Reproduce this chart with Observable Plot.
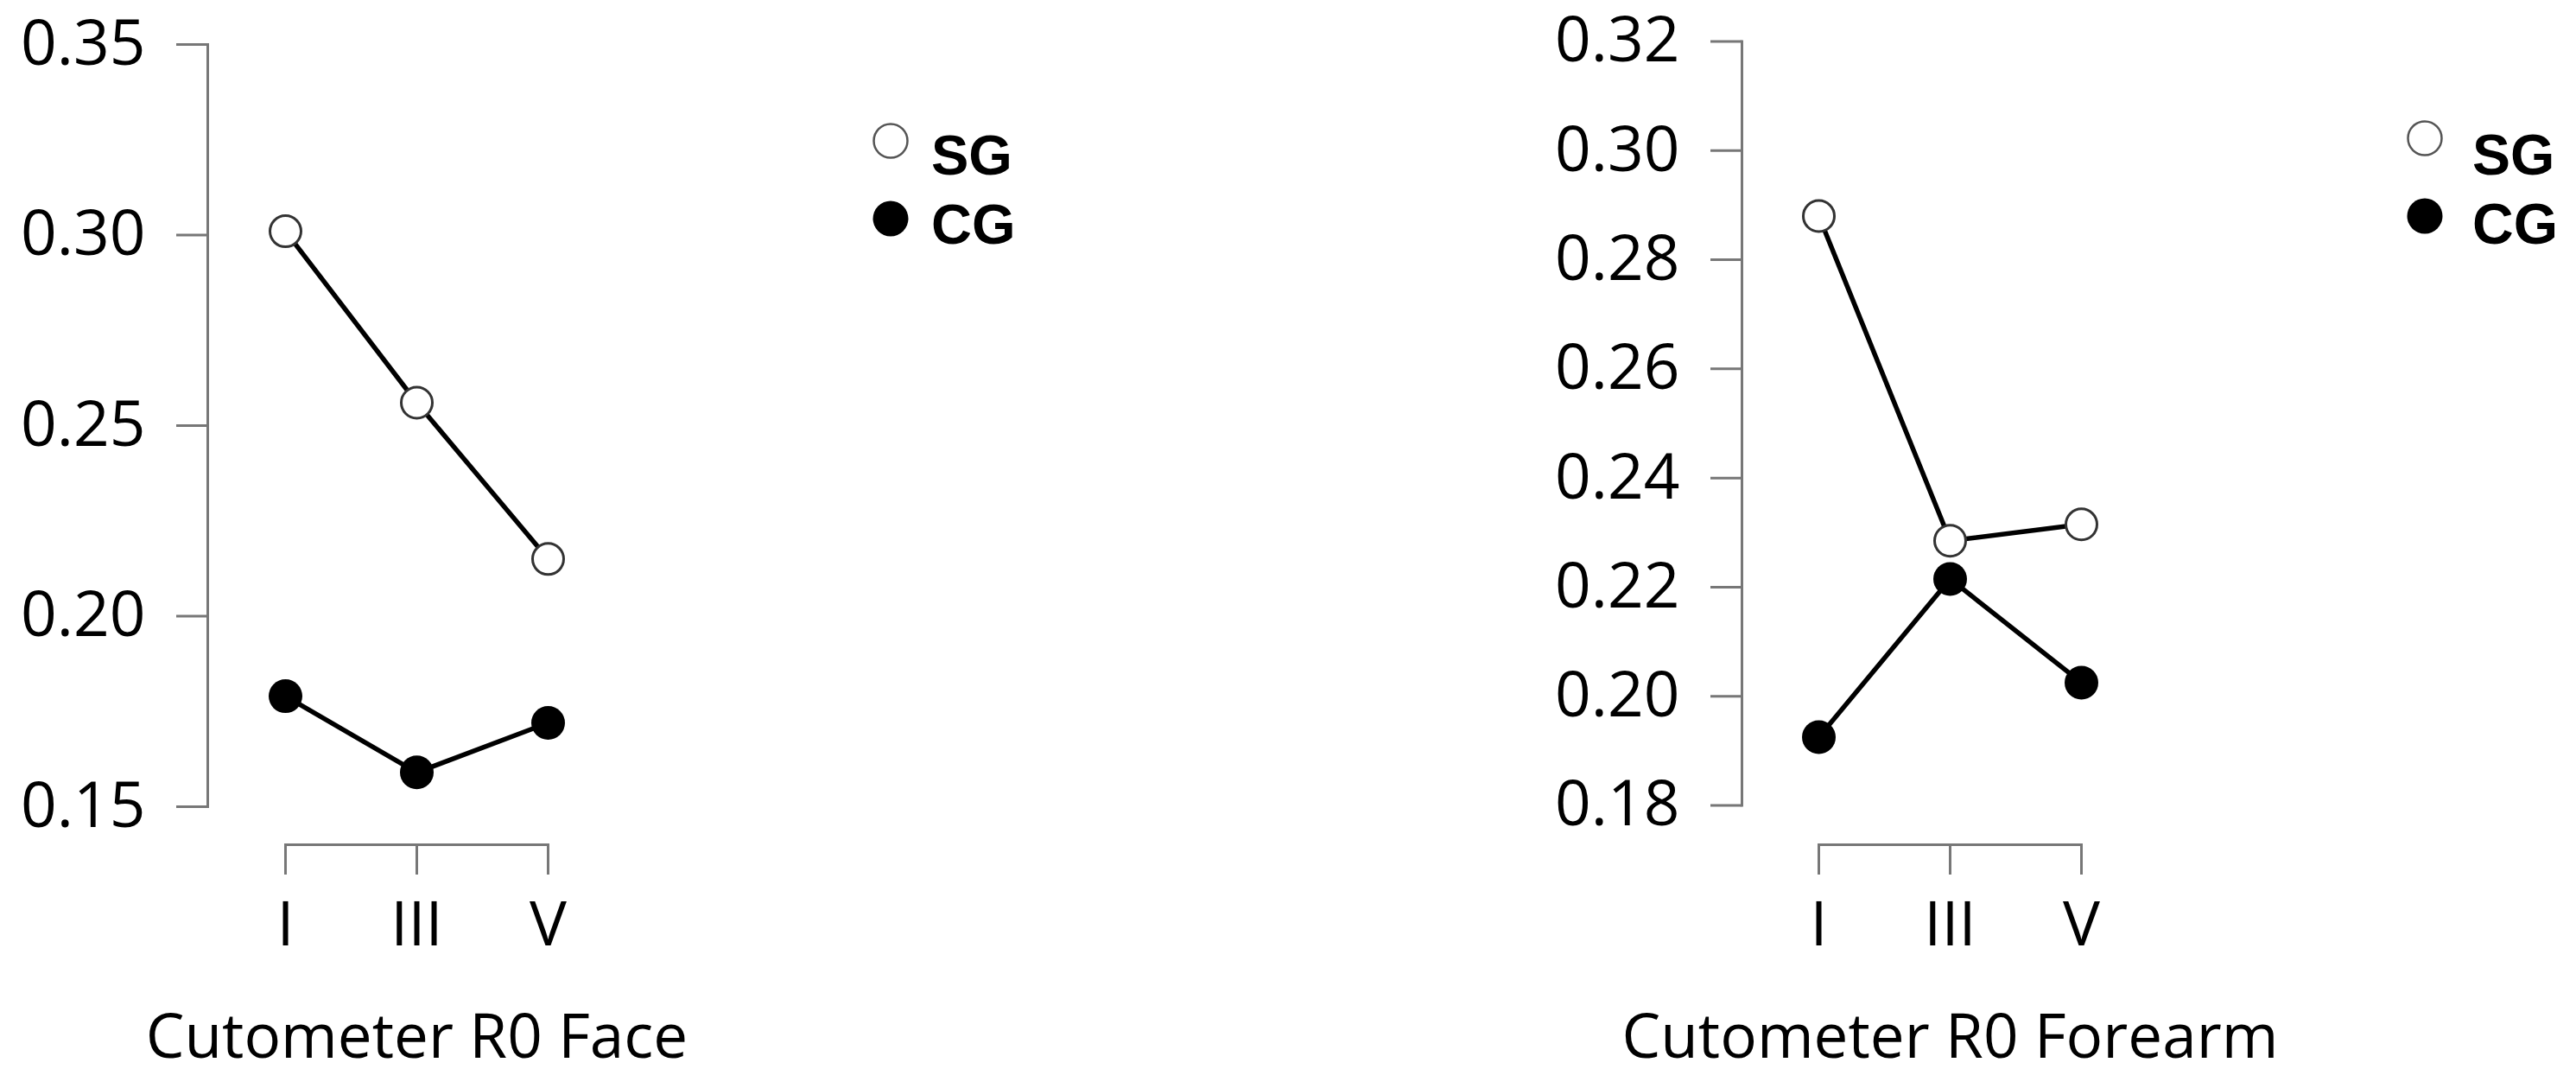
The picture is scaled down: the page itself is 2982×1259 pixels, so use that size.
<!DOCTYPE html>
<html>
<head>
<meta charset="utf-8">
<script src="https://cdn.jsdelivr.net/npm/d3@7"></script>
<script src="https://cdn.jsdelivr.net/npm/@observablehq/plot@0.6"></script>
<style>
  html, body { margin: 0; padding: 0; background: #fff; }
  #root { position: relative; width: 2982px; height: 1259px; overflow: hidden; background: #fff; }
  .panel { position: absolute; top: 0; }
  #legend { position: absolute; left: 0; top: 0; pointer-events: none; }
</style>
</head>
<body>
<div id="root"></div>
<script>
// ---- data ----
const timepoints = ["I", "III", "V"];
const groups = ["SG", "CG"];

const faceSG = [0.301, 0.256, 0.215];
const faceCG = [0.179, 0.159, 0.172];
const faceTicks = [0.15, 0.20, 0.25, 0.30, 0.35];

const forearmSG = [0.288, 0.2285, 0.2315];
const forearmCG = [0.1925, 0.2215, 0.2025];
const forearmTicks = [0.18, 0.20, 0.22, 0.24, 0.26, 0.28, 0.30, 0.32];

const titles = ["Cutometer R0 Face", "Cutometer R0 Forearm"];

// ---- drawing ----
const H = 1259;
const AXIS_Y = 977;
const axisColor = "#777";
const root = document.getElementById("root");

function makePanel({left, width, title, sg, cg, ticks, marginTop, marginLeft, marginRight, insetLeft, insetBottom}) {
  const rows = [];
  timepoints.forEach((t, i) => {
    rows.push({time: t, group: groups[0], value: sg[i]});
    rows.push({time: t, group: groups[1], value: cg[i]});
  });
  const chart = Plot.plot({
    width, height: H,
    marginTop, marginBottom: H - AXIS_Y, marginLeft, marginRight,
    style: {fontFamily: "'Open Sans', sans-serif", background: "transparent", overflow: "visible", color: "black"},
    x: {type: "point", domain: timepoints, padding: 0, insetLeft},
    y: {domain: [ticks[0], ticks[ticks.length - 1]], insetBottom},
    marks: [
      Plot.frame({anchor: "left", insetBottom, stroke: axisColor, strokeWidth: 3}),
      Plot.frame({anchor: "bottom", insetLeft, stroke: axisColor, strokeWidth: 3}),
      Plot.axisY({ticks, tickSize: 36, tickPadding: 36, tickFormat: d3.format(".2f"),
        fontSize: 73, stroke: axisColor, strokeWidth: 3, fill: "black", label: null}),
      Plot.axisX({tickSize: 35, tickPadding: 30, fontSize: 72,
        stroke: axisColor, strokeWidth: 3, fill: "black", label: null}),
      Plot.line(rows, {x: "time", y: "value", z: "group", stroke: "black", strokeWidth: 5.5}),
      Plot.dot(rows.filter(d => d.group === groups[1]), {x: "time", y: "value", r: 19.5, fill: "black"}),
      Plot.dot(rows.filter(d => d.group === groups[0]), {x: "time", y: "value", r: 18, fill: "white", stroke: "#333", strokeWidth: 3}),
      Plot.text([title], {x: () => timepoints[1], frameAnchor: "bottom", dy: 196, lineAnchor: "top",
        fontSize: 71, fill: "black", text: d => d})
    ]
  });
  const div = document.createElement("div");
  div.className = "panel";
  div.style.left = left + "px";
  div.style.width = width + "px";
  div.appendChild(chart);
  root.appendChild(div);
}

makePanel({left: 0, width: 700, title: titles[0], sg: faceSG, cg: faceCG, ticks: faceTicks,
  marginTop: 51, marginLeft: 240, marginRight: 66, insetLeft: 90, insetBottom: 44});

makePanel({left: 1750, width: 700, title: titles[1], sg: forearmSG, cg: forearmCG, ticks: forearmTicks,
  marginTop: 47.5, marginLeft: 266, marginRight: 41, insetLeft: 89, insetBottom: 45.5});

// ---- legends ----
const legendSvg = d3.select(root).append("svg")
  .attr("id", "legend").attr("width", 2982).attr("height", H);

const legendSpots = [
  {cx: 1031, cy0: 163, tx: 1078, ty0: 202, step: 90, size: 65},
  {cx: 2807, cy0: 160, tx: 2862, ty0: 202, step: 90, size: 66}
];
legendSpots.forEach(spot => {
  groups.forEach((g, i) => {
    legendSvg.append("circle")
      .attr("cx", spot.cx).attr("cy", spot.cy0 + i * spot.step)
      .attr("r", i === 0 ? 19.5 : 20.5)
      .attr("fill", i === 0 ? "white" : "black")
      .attr("stroke", i === 0 ? "#555" : "none")
      .attr("stroke-width", 2.5);
    legendSvg.append("text")
      .attr("x", spot.tx).attr("y", spot.ty0 + i * 80)
      .attr("font-family", "'Liberation Sans', Arial, sans-serif")
      .attr("font-weight", "bold")
      .attr("font-size", spot.size)
      .attr("fill", "black")
      .text(g);
  });
});
</script>
</body>
</html>
